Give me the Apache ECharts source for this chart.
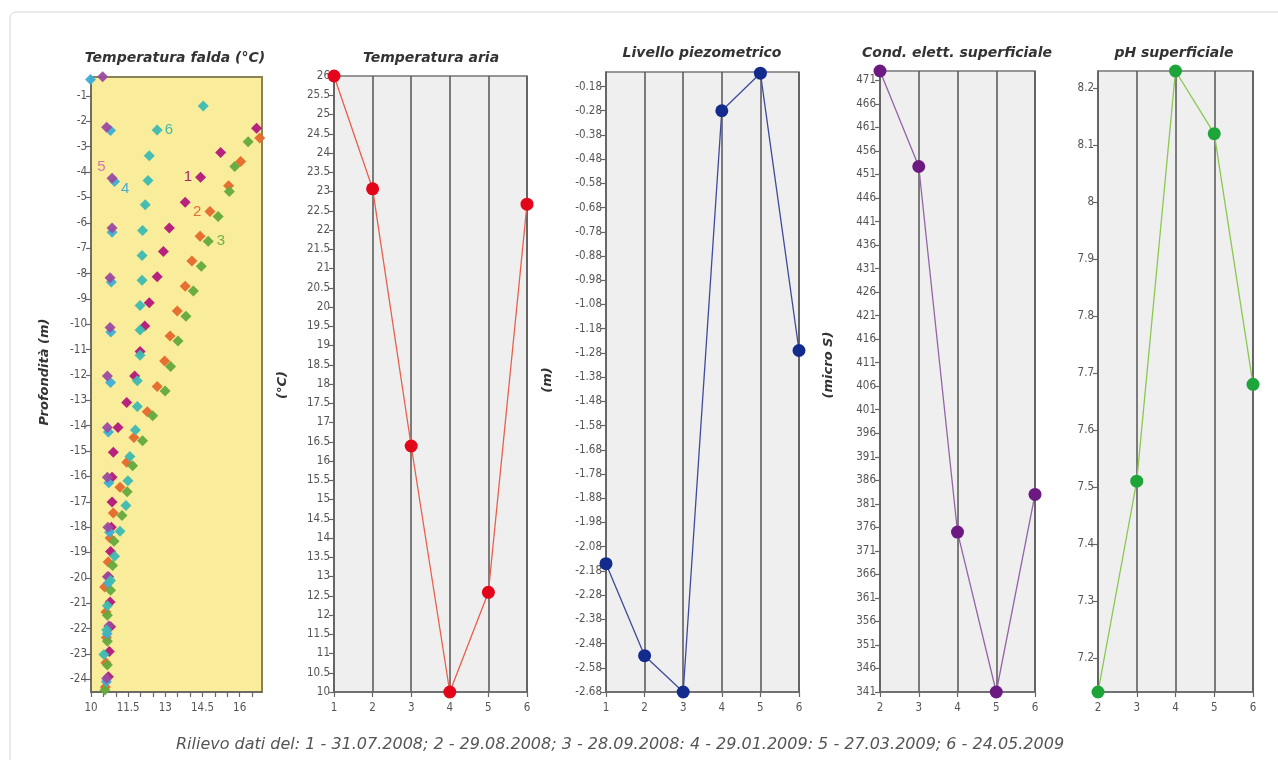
<!DOCTYPE html>
<html><head><meta charset="utf-8">
<script src="https://cdn.jsdelivr.net/npm/echarts@6/dist/echarts.min.js"></script>
<style>html,body{margin:0;padding:0;background:#fff}#c{width:1278px;height:760px}</style>
</head><body><div id="c"></div><script>
// ---------- data ----------
const dates = [1, 2, 3, 4, 5, 6];
const datesSup = [2, 3, 4, 5, 6];
const tempAria = [26.0, 23.07, 16.39, 10.0, 12.59, 22.67];
const livello = [-2.15, -2.53, -2.68, -0.28, -0.125, -1.27];
const condEl = [473, 452.7, 375, 341, 383];
const ph = [7.14, 7.51, 8.23, 8.12, 7.68];

// Temperatura falda profiles: [temperature °C, depth m]
const falda1 = [[16.68,-2.27],[15.23,-3.23],[14.42,-4.2],[13.8,-5.19],[13.16,-6.2],[12.92,-7.13],[12.67,-8.13],[12.35,-9.15],[12.17,-10.07],[11.98,-11.07],[11.76,-12.04],[11.44,-13.08],[11.09,-14.07],[10.9,-15.05],[10.85,-16.03],[10.85,-17.01],[10.82,-18.0],[10.79,-18.96],[10.71,-19.96],[10.77,-20.95],[10.79,-21.93],[10.74,-22.9],[10.7,-23.9]];
const falda2 = [[16.81,-2.66],[16.04,-3.58],[15.55,-4.54],[14.8,-5.55],[14.4,-6.53],[14.07,-7.51],[13.8,-8.5],[13.48,-9.48],[13.19,-10.46],[12.97,-11.45],[12.67,-12.45],[12.27,-13.45],[11.73,-14.46],[11.44,-15.44],[11.17,-16.43],[10.9,-17.44],[10.77,-18.43],[10.69,-19.37],[10.55,-20.36],[10.6,-21.35],[10.62,-22.35],[10.6,-23.35],[10.58,-24.3]];
const falda3 = [[16.34,-2.8],[15.8,-3.78],[15.58,-4.76],[15.13,-5.75],[14.73,-6.73],[14.45,-7.71],[14.13,-8.69],[13.83,-9.68],[13.51,-10.66],[13.21,-11.67],[12.99,-12.63],[12.49,-13.61],[12.08,-14.59],[11.68,-15.58],[11.46,-16.6],[11.25,-17.54],[10.93,-18.56],[10.87,-19.51],[10.79,-20.49],[10.66,-21.47],[10.66,-22.5],[10.66,-23.44],[10.56,-24.42]];
const falda4 = [[9.98,-0.35],[10.79,-2.36],[10.95,-4.37],[10.85,-6.37],[10.82,-8.33],[10.8,-10.3],[10.79,-12.3],[10.7,-14.25],[10.72,-16.25],[10.75,-18.2],[10.7,-20.2],[10.65,-22.2],[10.62,-24.1]];
const falda5 = [[10.47,-0.24],[10.63,-2.23],[10.85,-4.24],[10.85,-6.2],[10.77,-8.17],[10.77,-10.13],[10.66,-12.04],[10.66,-14.07],[10.66,-16.03],[10.68,-18.0],[10.66,-19.96],[10.72,-21.9],[10.63,-23.97]];
const falda6 = [[14.53,-1.39],[12.67,-2.34],[12.35,-3.36],[12.3,-4.33],[12.19,-5.29],[12.08,-6.3],[12.06,-7.29],[12.06,-8.26],[11.98,-9.26],[11.98,-10.23],[11.98,-11.22],[11.87,-12.23],[11.87,-13.24],[11.79,-14.17],[11.57,-15.21],[11.49,-16.17],[11.41,-17.15],[11.17,-18.16],[10.95,-19.15],[10.79,-20.1],[10.66,-21.1],[10.63,-22.06],[10.52,-23.02]];
const faldaNames = ['1', '2', '3', '4', '5', '6'];

// tick labels
const depthTicks = [-1,-2,-3,-4,-5,-6,-7,-8,-9,-10,-11,-12,-13,-14,-15,-16,-17,-18,-19,-20,-21,-22,-23,-24];
const faldaTempTicks = [10, 11.5, 13, 14.5, 16];
const faldaTempMinor = [10,10.5,11,11.5,12,12.5,13,13.5,14,14.5,15,15.5,16,16.5];
const ariaTicks = [10,10.5,11,11.5,12,12.5,13,13.5,14,14.5,15,15.5,16,16.5,17,17.5,18,18.5,19,19.5,20,20.5,21,21.5,22,22.5,23,23.5,24,24.5,25,25.5,26];
const livelloTicks = [-0.18,-0.28,-0.38,-0.48,-0.58,-0.68,-0.78,-0.88,-0.98,-1.08,-1.18,-1.28,-1.38,-1.48,-1.58,-1.68,-1.78,-1.88,-1.98,-2.08,-2.18,-2.28,-2.38,-2.48,-2.58,-2.68];
const condTicks = [341,346,351,356,361,366,371,376,381,386,391,396,401,406,411,416,421,426,431,436,441,446,451,456,461,466,471];
const phTicks = [7.2,7.3,7.4,7.5,7.6,7.7,7.8,7.9,8,8.1,8.2];

// ---------- styling ----------
const tickFont = "'Liberation Sans Narrow','DejaVu Sans Condensed','Liberation Sans',sans-serif";
const titleFont = "'DejaVu Sans',sans-serif";
const labelStyle = {color: '#555', fontSize: 11.5, fontFamily: tickFont};
const axLine = {show: true, lineStyle: {color: '#666', width: 1.5}};
const axTick = {show: true, length: 5, lineStyle: {color: '#666', width: 1.2}};

const grids = [
  {left: 91, top: 77, width: 171, height: 615, show: true, backgroundColor: '#f9ec9a', borderColor: '#8a8358', borderWidth: 2},
  {left: 334, top: 76, width: 193, height: 616, show: true, backgroundColor: '#efefef', borderColor: '#777', borderWidth: 1.5},
  {left: 606, top: 72, width: 193, height: 620, show: true, backgroundColor: '#efefef', borderColor: '#777', borderWidth: 1.5},
  {left: 880, top: 71, width: 155, height: 621, show: true, backgroundColor: '#efefef', borderColor: '#777', borderWidth: 1.5},
  {left: 1098, top: 71, width: 155, height: 621, show: true, backgroundColor: '#efefef', borderColor: '#777', borderWidth: 1.5}
];

function xCat(gi, min, max) {
  return {type: 'value', gridIndex: gi, min: min, max: max, interval: 1,
    axisLine: axLine, axisTick: axTick, axisLabel: Object.assign({margin: 10}, labelStyle),
    splitLine: {show: true, lineStyle: {color: '#555', width: 1.5}}};
}
function yVal(gi, min, max, ticks) {
  return {type: 'value', gridIndex: gi, min: min, max: max,
    axisLine: axLine, axisTick: Object.assign({customValues: ticks}, axTick),
    axisLabel: Object.assign({customValues: ticks, margin: 4}, labelStyle),
    splitLine: {show: false}};
}

const xAxes = [
  {type: 'value', gridIndex: 0, min: 10, max: 16.9,
    axisLine: axLine, axisTick: Object.assign({customValues: faldaTempMinor}, axTick),
    axisLabel: Object.assign({customValues: faldaTempTicks, margin: 10}, labelStyle),
    splitLine: {show: false}},
  xCat(1, 1, 6), xCat(2, 1, 6), xCat(3, 2, 6), xCat(4, 2, 6)
];
const yAxes = [
  yVal(0, -24.5, -0.25, depthTicks),
  yVal(1, 10, 26, ariaTicks),
  yVal(2, -2.68, -0.12, livelloTicks),
  yVal(3, 341, 473, condTicks),
  yVal(4, 7.14, 8.23, phTicks)
];

const faldaData = [falda1, falda2, falda3, falda4, falda5, falda6];
const faldaColors = ['#b3177a', '#e4692c', '#63aa3e', '#3caed6', '#9c4aa0', '#3dbab2'];
const faldaLabelColors = ['#a5176e', '#e06a2a', '#6aac40', '#3aa6d8', '#d070a4', '#3ab8a8'];
const faldaLabelAt = [
  {i: 2, position: 'left', offset: [0, 0]},
  {i: 3, position: 'left', offset: [0, 0]},
  {i: 4, position: 'right', offset: [0, 0]},
  {i: 2, position: 'right', offset: [-2, 7]},
  {i: 2, position: 'left', offset: [2, -11]},
  {i: 1, position: 'right', offset: [-1, 0]}
];

const series = [];
faldaData.forEach((arr, s) => {
  const cfg = faldaLabelAt[s];
  series.push({
    type: 'scatter', xAxisIndex: 0, yAxisIndex: 0, clip: false,
    symbol: 'diamond', symbolSize: [11, 11],
    itemStyle: {color: faldaColors[s], opacity: 0.95},
    data: arr.map((p, k) => {
      const d = {value: p};
      if (k === cfg.i) {
        d.label = {show: true, formatter: faldaNames[s], position: cfg.position, distance: 3,
          offset: cfg.offset, color: faldaLabelColors[s], fontSize: 15,
          fontFamily: "'Liberation Sans',sans-serif"};
      }
      return d;
    }),
    z: 3 + s
  });
});

function lineSeries(gi, xs, ys, lineColor, dotColor) {
  return {type: 'line', xAxisIndex: gi, yAxisIndex: gi, clip: false,
    data: xs.map((x, i) => [x, ys[i]]),
    symbol: 'circle', symbolSize: 13, showSymbol: true,
    lineStyle: {color: lineColor, width: 1.3},
    itemStyle: {color: dotColor},
    z: 5};
}
series.push(lineSeries(1, dates, tempAria, '#e8604c', '#e3061a'));
series.push(lineSeries(2, dates, livello, '#3d4b9a', '#132b8c'));
series.push(lineSeries(3, datesSup, condEl, '#9464a4', '#6c1a82'));
series.push(lineSeries(4, datesSup, ph, '#8ac850', '#1ea53a'));

function gText(x, y, txt) {
  return {type: 'text', x: x, y: y, style: {text: txt, fill: '#333',
    font: "italic bold 14px " + titleFont, align: 'center', verticalAlign: 'middle'}};
}
function gVText(x, y, txt) {
  return {type: 'text', x: x, y: y, rotation: Math.PI / 2,
    style: {text: txt, fill: '#333', font: "italic bold 13px " + titleFont, align: 'center', verticalAlign: 'middle'}};
}

const graphic = [
  {type: 'rect', shape: {x: 10, y: 12, width: 1320, height: 800, r: 6},
    style: {fill: 'none', stroke: '#d4d4d4', lineWidth: 1}, z: -10},
  gText(175, 58, 'Temperatura falda (°C)'),
  gText(431, 58, 'Temperatura aria'),
  gText(702, 53, 'Livello piezometrico'),
  gText(957, 53, 'Cond. elett. superficiale'),
  gText(1174, 53, 'pH superficiale'),
  gVText(45, 372, 'Profondità (m)'),
  gVText(283, 385, '(°C)'),
  gVText(548, 380, '(m)'),
  gVText(829, 365, '(micro S)'),
  {type: 'text', x: 620, y: 745, style: {text: 'Rilievo dati del: 1 - 31.07.2008; 2 - 29.08.2008; 3 - 28.09.2008: 4 - 29.01.2009: 5 - 27.03.2009; 6 - 24.05.2009',
    fill: '#555', font: "italic 16px " + titleFont, align: 'center', verticalAlign: 'middle'}}
];

const chart = echarts.init(document.getElementById('c'), null, {renderer: 'canvas'});
chart.setOption({
  backgroundColor: '#ffffff',
  animation: false,
  grid: grids,
  xAxis: xAxes,
  yAxis: yAxes,
  series: series,
  graphic: graphic
});
</script></body></html>
